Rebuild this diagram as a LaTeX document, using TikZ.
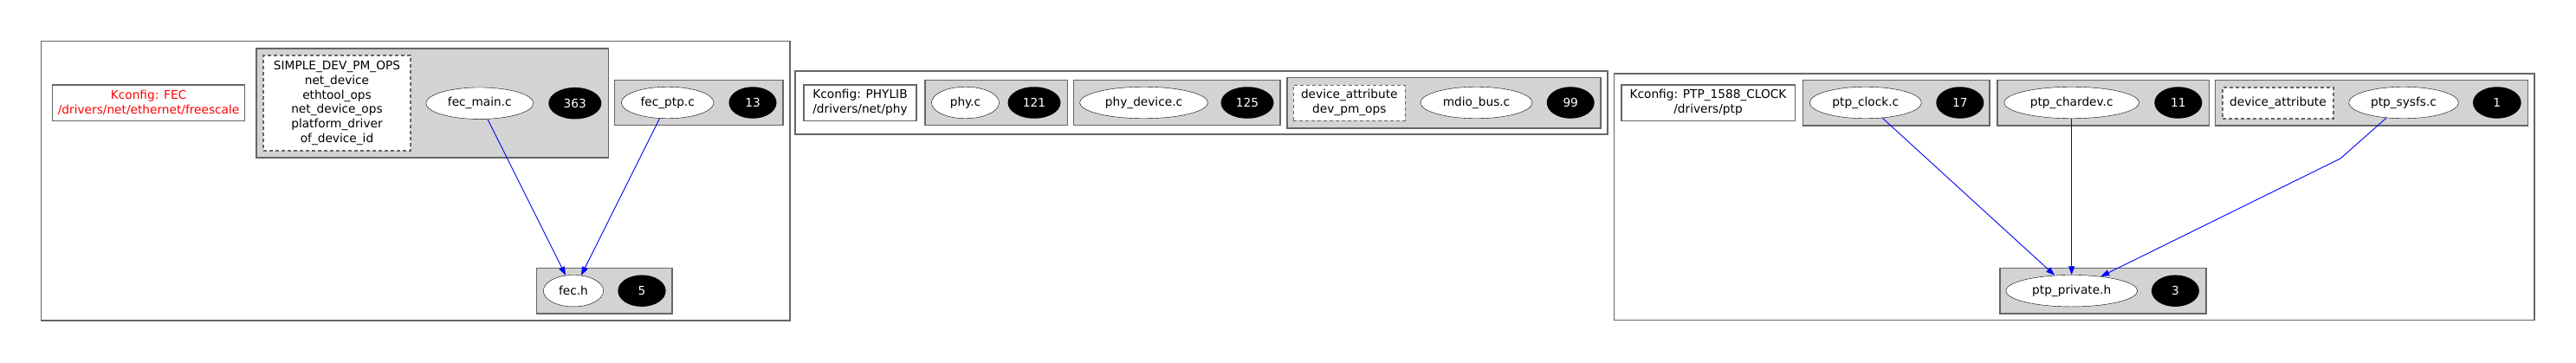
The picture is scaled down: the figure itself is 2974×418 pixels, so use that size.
\documentclass[tikz,border=0pt]{standalone}
\usepackage{fontspec}
\setmainfont{DejaVu Sans}
\usepackage{xcolor}
\usepackage{tikz}
\usetikzlibrary{arrows.meta,shapes.geometric}

\definecolor{clusterfill}{HTML}{D3D3D3}
\definecolor{clusterline}{HTML}{666666}

\begin{document}
\begin{tikzpicture}[x=1pt,y=-1pt,>={Triangle[length=10pt,width=7pt]},
  font=\fontsize{13.7}{16.9}\selectfont,
  cluster/.style={draw=clusterline,line width=1.6pt},
  group/.style={draw=clusterline,fill=clusterfill,line width=1.6pt},
  kconfig/.style={draw=clusterline,line width=1.6pt,fill=white,align=center,inner sep=0pt,minimum height=41.6pt},
  symbols/.style={draw=clusterline,dash pattern=on 4pt off 3pt,line width=1.6pt,fill=white,align=center,inner sep=0pt},
  srcfile/.style={ellipse,draw,fill=white,inner sep=0pt,minimum height=36.5pt},
  count/.style={ellipse,fill=black,text=white,inner sep=0pt,minimum height=36.5pt},
  dep/.style={->,blue,line width=0.9pt}]
  \useasboundingbox (0,0) rectangle (2974,418);

  % Left
  \draw[cluster] (47.5,47.5) rectangle (911.7,370);
  \node[kconfig,text=red,minimum width=222pt] (kfec) at (171.6,118.5) {Kconfig: FEC\\/drivers/net/ethernet/freescale};

  \draw[group] (296,56) rectangle (702.3,182);
  \node[symbols,minimum width=170pt,minimum height=110pt] (fecmainsyms) at (389,119) {SIMPLE\_DEV\_PM\_OPS\\net\_device\\ethtool\_ops\\net\_device\_ops\\platform\_driver\\of\_device\_id};
  \node[srcfile,minimum width=124pt] (fecmain) at (553.8,119.2) {fec\_main.c};
  \node[count,minimum width=61pt] (fecmaincnt) at (663.8,119.2) {363};

  \draw[group] (709.3,92.5) rectangle (904,144.5);
  \node[srcfile,minimum width=106.7pt] (fecptp) at (770.7,118.5) {fec\_ptp.c};
  \node[count,minimum width=55pt] (fecptpcnt) at (869,118.5) {13};

  \draw[group] (619.3,309.5) rectangle (776,361.7);
  \node[srcfile,minimum width=69.3pt] (fech) at (662,335.7) {fec.h};
  \node[count,minimum width=55.3pt] (fechcnt) at (741,335.7) {5};

  \draw[dep] (fecmain) -- (fech);
  \draw[dep] (fecptp) -- (fech);

  % Middle
  \draw[cluster] (918,81.7) rectangle (1856,155);
  \node[kconfig,minimum width=130.5pt] (kphy) at (993,118.5) {Kconfig: PHYLIB\\/drivers/net/phy};

  \draw[group] (1068,92.5) rectangle (1232.5,144.5);
  \node[srcfile,minimum width=78pt] (phy) at (1114.5,118.5) {phy.c};
  \node[count,minimum width=61pt] (phycnt) at (1194,118.5) {121};

  \draw[group] (1239.5,92.5) rectangle (1478,144.5);
  \node[srcfile,minimum width=148pt] (phydevice) at (1320.5,118.5) {phy\_device.c};
  \node[count,minimum width=61pt] (phydevicecnt) at (1440,118.5) {125};

  \draw[group] (1485.7,89.3) rectangle (1847.7,147.7);
  \node[symbols,minimum width=129pt,minimum height=41pt] (mdiosyms) at (1557.8,118.8) {device\_attribute\\dev\_pm\_ops};
  \node[srcfile,minimum width=129pt] (mdiobus) at (1704.5,118.5) {mdio\_bus.c};
  \node[count,minimum width=55pt] (mdiobuscnt) at (1813.2,118.5) {99};

  % Right
  \draw[cluster] (1863.5,85) rectangle (2926,369.5);
  \node[kconfig,minimum width=200.6pt] (kptp) at (1972,118.5) {Kconfig: PTP\_1588\_CLOCK\\/drivers/ptp};

  \draw[group] (2081.5,92.5) rectangle (2297.2,144.8);
  \node[srcfile,minimum width=129pt] (ptpclock) at (2153.8,118.5) {ptp\_clock.c};
  \node[count,minimum width=55pt] (ptpclockcnt) at (2262.8,118.5) {17};

  \draw[group] (2306.2,92.5) rectangle (2550.5,144.8);
  \node[srcfile,minimum width=156pt] (ptpchardev) at (2391.7,118.5) {ptp\_chardev.c};
  \node[count,minimum width=55pt] (ptpchardevcnt) at (2514.8,118.5) {11};

  \draw[group] (2557.3,92.5) rectangle (2918.3,144.8);
  \node[symbols,minimum width=128.3pt,minimum height=35.7pt] (sysfssyms) at (2629.9,118.9) {device\_attribute};
  \node[srcfile,minimum width=126.7pt] (ptpsysfs) at (2775,118.5) {ptp\_sysfs.c};
  \node[count,minimum width=55.7pt] (ptpsysfscnt) at (2882.8,118.5) {1};

  \draw[group] (2308.9,309.5) rectangle (2547,362);
  \node[srcfile,minimum width=152pt] (ptpprivate) at (2391.7,335.7) {ptp\_private.h};
  \node[count,minimum width=55pt] (ptpprivatecnt) at (2511.4,335.7) {3};

  \coordinate (sysfsbend) at (2702,183);
  \draw[dep] (ptpclock) -- (ptpprivate);
  \draw[dep] (ptpchardev) -- (ptpprivate);
  \draw[dep] (ptpsysfs) -- (sysfsbend) -- (ptpprivate);
\end{tikzpicture}
\end{document}
